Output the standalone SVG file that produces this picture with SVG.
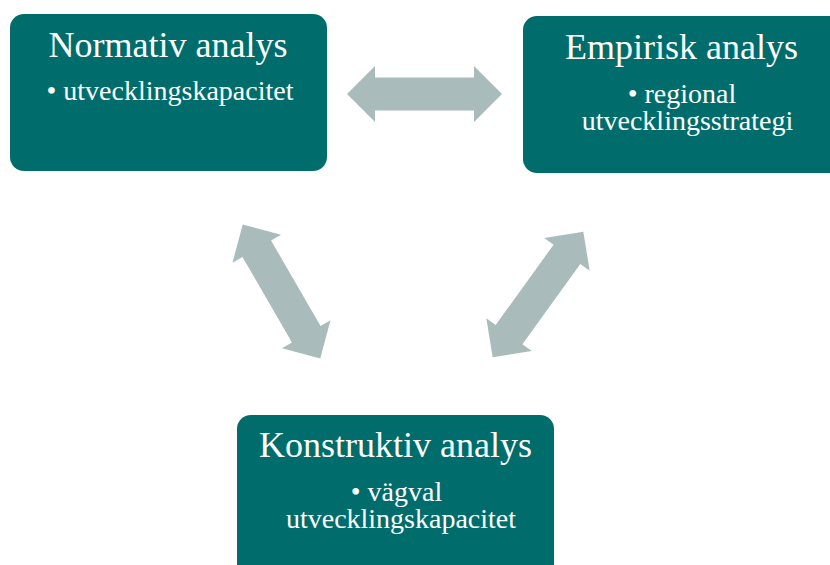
<svg xmlns="http://www.w3.org/2000/svg" width="830" height="565" viewBox="0 0 830 565">
<style>
.box{fill:#006d6c}
.t{font-family:"Liberation Serif","DejaVu Serif",serif;fill:#fff;text-anchor:middle}
.h{font-size:36px}
.b{font-size:28px}
.arr{fill:#a9bcbb}
</style>
<defs>
<path id="dbl" d="M -77.5 0 L -49.5 -28 L -49.5 -16.5 L 49.5 -16.5 L 49.5 -28 L 77.5 0 L 49.5 28 L 49.5 16.5 L -49.5 16.5 L -49.5 28 Z"/>
</defs>
<rect width="830" height="565" fill="#fff"/>
<g id="connectors">
<use href="#dbl" class="arr" transform="translate(424.5,94)"/>
<use href="#dbl" class="arr" transform="translate(281.5,291.5) rotate(60)"/>
<use href="#dbl" class="arr" transform="translate(538,294.5) rotate(-54.2)"/>
</g>
<g id="normativ">
<rect class="box" x="10" y="14" width="317" height="157" rx="14"/>
<text class="t h" x="168" y="57">Normativ analys</text>
<text class="t b" x="170" y="100">• utvecklingskapacitet</text>
</g>
<g id="empirisk">
<rect class="box" x="523" y="16" width="320" height="157" rx="14"/>
<text class="t h" x="681.5" y="59">Empirisk analys</text>
<text class="t b" x="682" y="103">• regional</text>
<text class="t b" x="687.5" y="130">utvecklingsstrategi</text>
</g>
<g id="konstruktiv">
<rect class="box" x="237" y="415" width="317" height="165" rx="14"/>
<text class="t h" x="395.5" y="457">Konstruktiv analys</text>
<text class="t b" x="396.5" y="501">• vägval</text>
<text class="t b" x="401" y="528">utvecklingskapacitet</text>
</g>
</svg>
